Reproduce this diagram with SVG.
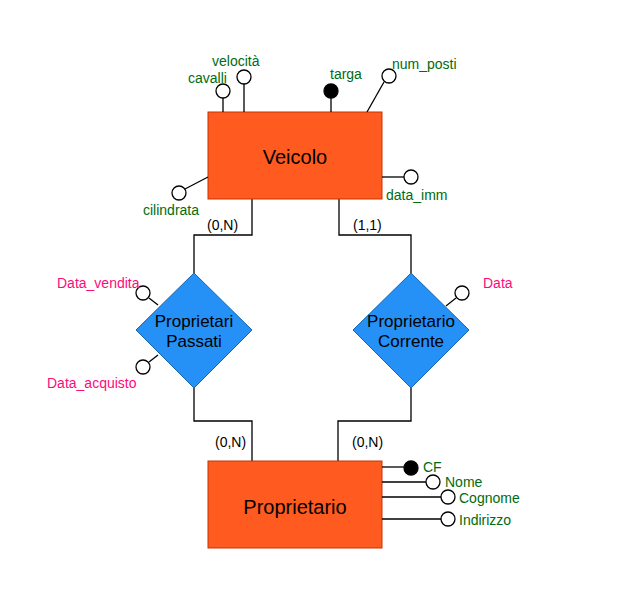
<svg xmlns="http://www.w3.org/2000/svg" width="626" height="609" viewBox="0 0 626 609">
<style>
.ent{fill:#FF5A1F;stroke:#C73500;stroke-width:1}
.rel{fill:#2590F5;stroke:#1566B0;stroke-width:1}
.ln{stroke:#000;stroke-width:1.3;fill:none}
.att{fill:#fff;stroke:#000;stroke-width:1.3}
.key{fill:#000;stroke:#000;stroke-width:1.3}
.g{font-family:"Liberation Sans",Arial,sans-serif;font-size:14px;fill:#006B0F}
.p{font-family:"Liberation Sans",Arial,sans-serif;font-size:14px;fill:#FF0A7A}
.c{font-family:"Liberation Sans",Arial,sans-serif;font-size:14px;fill:#000}
.t{font-family:"Liberation Sans",Arial,sans-serif;fill:#000;text-anchor:middle}
</style>
<rect width="626" height="609" fill="#fff"/>
<g id="connectors">
<polyline class="ln" points="252,199 252,235 194,235 194,273"/>
<polyline class="ln" points="339,199 339,235 411,235 411,273"/>
<polyline class="ln" points="194,388 194,421 252,421 252,461"/>
<polyline class="ln" points="411,388 411,421 338,421 338,461"/>
<text class="c" x="207" y="230">(0,N)</text>
<text class="c" x="353" y="230">(1,1)</text>
<text class="c" x="215" y="447">(0,N)</text>
<text class="c" x="352" y="447">(0,N)</text>
</g>
<g id="veicolo">
<rect class="ent" x="208" y="112" width="174" height="87"/>
<text class="t" x="295" y="164" font-size="20">Veicolo</text>
</g>
<g id="attr-cavalli">
<line class="ln" x1="223" y1="98" x2="223" y2="112"/>
<circle class="att" cx="223" cy="91" r="7"/>
<text class="g" x="188" y="83">cavalli</text>
</g>
<g id="attr-velocita">
<line class="ln" x1="244" y1="84" x2="244" y2="112"/>
<circle class="att" cx="244" cy="77" r="7"/>
<text class="g" x="212" y="66">velocità</text>
</g>
<g id="attr-targa">
<line class="ln" x1="331" y1="98" x2="331" y2="112"/>
<circle class="key" cx="331" cy="91" r="7"/>
<text class="g" x="330" y="79">targa</text>
</g>
<g id="attr-num_posti">
<line class="ln" x1="384" y1="82" x2="367" y2="112"/>
<circle class="att" cx="389" cy="76" r="7"/>
<text class="g" x="392" y="69">num_posti</text>
</g>
<g id="attr-data_imm">
<line class="ln" x1="382" y1="177" x2="404" y2="177"/>
<circle class="att" cx="411" cy="177" r="7"/>
<text class="g" x="386" y="200">data_imm</text>
</g>
<g id="attr-cilindrata">
<line class="ln" x1="185" y1="189" x2="208" y2="177"/>
<circle class="att" cx="179" cy="193" r="7"/>
<text class="g" x="143" y="215">cilindrata</text>
</g>
<g id="proprietari-passati">
<polygon class="rel" points="194,273 252,330 194,388 136,330"/>
<text class="t" x="194" y="327" font-size="17">Proprietari</text>
<text class="t" x="194" y="347" font-size="17">Passati</text>
</g>
<g id="attr-data_vendita">
<line class="ln" x1="149" y1="298" x2="158" y2="305"/>
<circle class="att" cx="143" cy="293" r="7"/>
<text class="p" x="57" y="288">Data_vendita</text>
</g>
<g id="attr-data_acquisto">
<line class="ln" x1="149" y1="362" x2="158" y2="355"/>
<circle class="att" cx="143" cy="367" r="7"/>
<text class="p" x="47" y="388">Data_acquisto</text>
</g>
<g id="proprietario-corrente">
<polygon class="rel" points="411,273 469,330 411,388 353,330"/>
<text class="t" x="411" y="327" font-size="17">Proprietario</text>
<text class="t" x="411" y="347" font-size="17">Corrente</text>
</g>
<g id="attr-data">
<line class="ln" x1="446" y1="306" x2="456" y2="298"/>
<circle class="att" cx="462" cy="293" r="7"/>
<text class="p" x="483" y="288">Data</text>
</g>
<g id="proprietario">
<rect class="ent" x="208" y="461" width="174" height="87"/>
<text class="t" x="295" y="514" font-size="20">Proprietario</text>
</g>
<g id="attr-cf">
<line class="ln" x1="382" y1="467" x2="404" y2="467"/>
<circle class="key" cx="411" cy="468" r="7"/>
<text class="g" x="423" y="472">CF</text>
</g>
<g id="attr-nome">
<line class="ln" x1="382" y1="482" x2="426" y2="482"/>
<circle class="att" cx="433" cy="482" r="7"/>
<text class="g" x="445" y="487">Nome</text>
</g>
<g id="attr-cognome">
<line class="ln" x1="382" y1="497" x2="441" y2="497"/>
<circle class="att" cx="448" cy="497" r="7"/>
<text class="g" x="459" y="503">Cognome</text>
</g>
<g id="attr-indirizzo">
<line class="ln" x1="382" y1="519" x2="441" y2="519"/>
<circle class="att" cx="448" cy="519" r="7"/>
<text class="g" x="459" y="525">Indirizzo</text>
</g>
</svg>
